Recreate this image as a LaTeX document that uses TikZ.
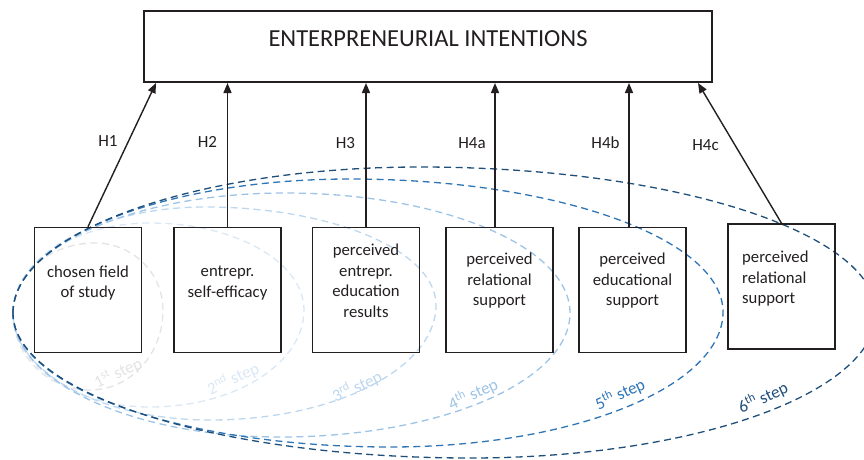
\documentclass[tikz,border=0pt]{standalone}
\usepackage{fontspec}
\setmainfont{Carlito}
\usetikzlibrary{arrows.meta,calc}
\definecolor{ink}{HTML}{231F20}
\definecolor{sA}{HTML}{E4E3E3}
\definecolor{sB}{HTML}{DAE8F5}
\definecolor{sC}{HTML}{BDD7EE}
\definecolor{sD}{HTML}{9DC3E6}
\definecolor{sE}{HTML}{2E75B6}
\definecolor{sF}{HTML}{1F4E79}
% egg-shaped step outline: colour, top (x,y), right (x,y), bottom (x,y); left point fixed at (13,146)
\newcommand{\stepegg}[7]{%
  \draw[stepline,draw=#1] (13,146)
    arc[start angle=180,end angle=90,x radius={#2-13},y radius={#3-146}]
    arc[start angle=90,end angle=0,x radius={#4-#2},y radius={#3-#5}]
    arc[start angle=0,end angle=-90,x radius={#4-#6},y radius={#5-#7}]
    arc[start angle=270,end angle=180,x radius={#6-13},y radius={146-#7}]
    -- cycle;}
\begin{document}
\begin{tikzpicture}[x=1pt,y=1pt,
  boxnode/.style={draw=ink, line width=1.5pt, minimum width=107pt, minimum height=125pt, inner sep=0pt},
  boxtext/.style={text=ink, font=\fontsize{16.7}{20.5}\selectfont, align=center, inner sep=0pt},
  hlabel/.style={text=ink, font=\fontsize{17}{20}\selectfont, inner sep=0pt},
  arr/.style={draw=ink, line width=1.4pt, -{Triangle[length=10pt,width=8pt]}},
  stepline/.style={dash pattern=on 7pt off 4.5pt, line width=1.3pt},
  steplabel/.style={font=\fontsize{17}{19}\selectfont, inner sep=0pt, rotate=25},
]
\useasboundingbox (0,0) rectangle (864,459);

% step outlines
\stepegg{sA}{95}{216}{163}{149}{90}{69}
\stepegg{sB}{150}{236}{304}{149}{150}{52}
\stepegg{sC}{205}{252}{436}{154}{210}{39}
\stepegg{sD}{285}{266}{570}{146}{280}{22}
\stepegg{sE}{350}{280}{723}{147}{390}{12}
\stepegg{sF}{420}{292}{876}{146}{470}{1}

% step labels
\node[steplabel,text=sA] (l1) at (118,86) {1\textsuperscript{st} step};
\node[steplabel,text=sB] (l2) at (233,80.5) {2\textsuperscript{nd} step};
\node[steplabel,text=sC] (l3) at (357,72.5) {3\textsuperscript{rd} step};
\node[steplabel,text=sD] (l4) at (473,65) {4\textsuperscript{th} step};
\node[steplabel,text=sE] (l5) at (620,65) {5\textsuperscript{th} step};
\node[steplabel,text=sF] (l6) at (763,61.5) {6\textsuperscript{th} step};

% main box
\node[draw=ink, line width=2pt, minimum width=568pt, minimum height=71pt, inner sep=0pt] (top) at (428,412.5) {};
\node[text=ink, font=\fontsize{24.5}{28}\selectfont, anchor=base, inner sep=0pt] (toptext) at (428,412.3) {ENTERPRENEURIAL INTENTIONS};

% boxes
\node[boxnode] (b1) at (88,169) {};
\node[boxnode] (b2) at (227.5,169) {};
\node[boxnode] (b3) at (366,169) {};
\node[boxnode] (b4) at (499.5,169) {};
\node[boxnode] (b5) at (632.5,169) {};
\node[boxnode] (b6) at (781.5,172.5) {};

\node[boxtext] (t1) at (88,175.8) {\strut chosen field\\\strut of study};
\node[boxtext] (t2) at (227.5,176.3) {\strut entrepr.\\\strut self-efficacy};
\node[boxtext] (t3) at (366,176.5) {\strut perceived\\\strut entrepr.\\\strut education\\\strut results};
\node[boxtext] (t4) at (499.5,178) {\strut perceived\\\strut relational\\\strut support};
\node[boxtext] (t5) at (632.5,178) {\strut perceived\\\strut educational\\\strut support};
\node[boxtext, align=left, anchor=west] (t6) at (742,180) {\strut perceived\\\strut relational\\\strut support};

% arrows
\draw[arr] (b1.north) -- ($(top.south west)+(13,0)$);
\draw[arr] (b2.north) -- (b2.north |- top.south);
\draw[arr] (b3.north) -- (b3.north |- top.south);
\draw[arr] ($(b4.north)+(-4.5,0)$) -- ($(b4.north |- top.south)+(-4.5,0)$);
\draw[arr] ($(b5.north)+(-3.5,0)$) -- ($(b5.north |- top.south)+(-3.5,0)$);
\draw[arr] (b6.north) -- ($(top.south east)+(-15,0)$);

% hypothesis labels
\node[hlabel] (h1) at (108,317.5) {H1};
\node[hlabel] (h2) at (207.5,317) {H2};
\node[hlabel] (h3) at (345.5,316) {H3};
\node[hlabel] (h4a) at (472,316) {H4a};
\node[hlabel] (h4b) at (605.5,316) {H4b};
\node[hlabel] (h4c) at (705.5,314) {H4c};
\end{tikzpicture}
\end{document}
